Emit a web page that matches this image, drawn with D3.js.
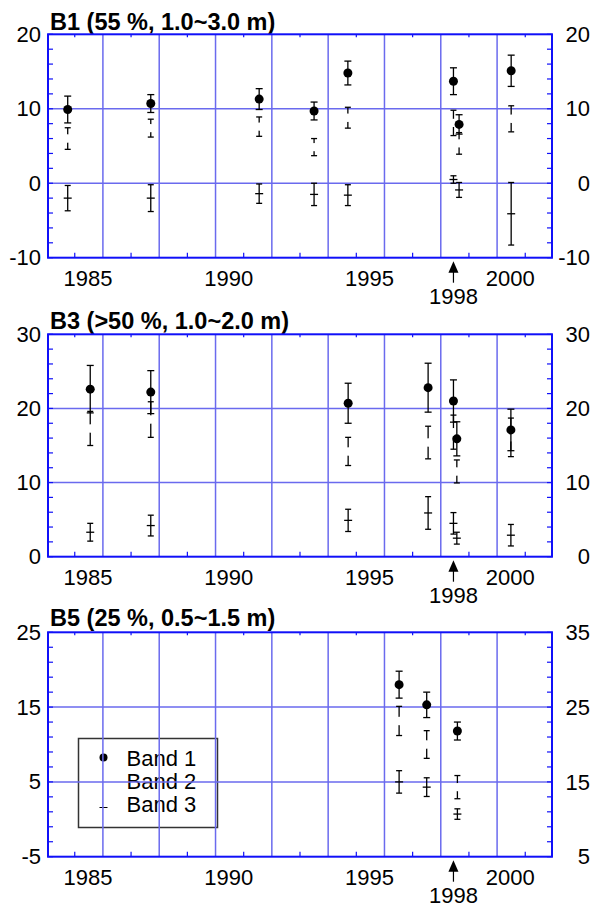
<!DOCTYPE html>
<html>
<head>
<meta charset="utf-8">
<script src="https://cdn.jsdelivr.net/npm/d3@7"></script>
<style>
    body { margin: 0; background: #fff; }
    svg { display: block; font-family: "Liberation Sans", Arial, sans-serif; }
</style>
</head>
<body>
<svg id="chart" width="593" height="907"></svg>
<script>
// ---- data ----
var xLabels = [1985, 1990, 1995, 2000];
var xGridYears = [1985.55, 1987.55, 1989.55, 1991.55, 1993.55, 1995.55, 1997.55, 1999.55];
var xMinorYears = [1984.55, 1986.55, 1988.55, 1990.55, 1992.55, 1994.55, 1996.55, 1998.55, 2000.55];
var markYear = 1998;
var legendLabels = ["Band 1", "Band 2", "Band 3"];

// B1
var b1Title = "B1 (55 %, 1.0~3.0 m)";
var b1LeftTicks = [-10, 0, 10, 20];
var b1RightTicks = [-10, 0, 10, 20];
var b1Years = [1984.3, 1987.25, 1991.1, 1993.05, 1994.25, 1998.0, 1998.2, 2000.05];
var b1Band1 = [9.9, 10.7, 11.3, 9.7, 14.8, 13.7, 7.9, 15.1];
var b1Band1Err = [1.8, 1.2, 1.4, 1.2, 1.6, 1.8, 1.3, 2.1];
var b1Band2 = [6.0, 7.4, 7.6, 4.85, 8.8, 8.1, 5.35, 8.65];
var b1Band2Err = [1.45, 1.2, 1.3, 1.15, 1.4, 1.7, 1.45, 1.75];
var b1Band3 = [-2.0, -2.0, -1.4, -1.5, -1.6, 0.5, -0.9, -4.1];
var b1Band3Err = [1.7, 1.8, 1.3, 1.5, 1.4, 0.5, 1.0, 4.2];

// B3
var b3Title = "B3 (>50 %, 1.0~2.0 m)";
var b3LeftTicks = [0, 10, 20, 30];
var b3RightTicks = [0, 10, 20, 30];
var b3Years = [1985.1, 1987.25, 1994.26, 1997.1, 1998.0, 1998.12, 2000.04];
var b3Band1 = [22.6, 22.2, 20.7, 22.8, 21.0, 15.9, 17.1];
var b3Band1Err = [3.2, 2.9, 2.7, 3.3, 2.85, 2.3, 2.8];
var b3Band2 = [17.3, 18.5, 14.2, 15.4, 16.8, 11.5, 16.1];
var b3Band2Err = [2.3, 2.4, 1.9, 2.2, 2.3, 1.55, 2.6];
var b3Band3 = [3.3, 4.2, 4.9, 5.9, 4.5, 2.5, 2.9];
var b3Band3Err = [1.2, 1.4, 1.5, 2.2, 1.45, 0.8, 1.45];

// B5
var b5Title = "B5 (25 %, 0.5~1.5 m)";
var b5LeftTicks = [-5, 5, 15, 25];
var b5RightTicks = [5, 15, 25, 35];
var b5Years = [1996.07, 1997.05, 1998.14];
var b5Band1 = [18.0, 15.3, 11.8];
var b5Band1Err = [1.8, 1.7, 1.2];
var b5Band2 = [13.15, 10.0, 4.3];
var b5Band2Err = [1.95, 1.85, 1.55];
var b5Band3 = [5.0, 4.3, 0.7];
var b5Band3Err = [1.5, 1.25, 0.7];

// ---- drawing ----
var svg = d3.select("#chart");
var left = 48, right = 552;
var blue = "#1010f8", gridBlue = "#6a6aee";

var x = d3.scaleLinear().domain([1983.6, 2001.5]).range([left, right]);

function rows(years, v, e) {
    return years.map(function(yr, i) { return {x: yr, y: v[i], e: e[i]}; });
}

var panels = [
    {title: b1Title, top: 34.3, bottom: 257.7, titleY: 30, left: b1LeftTicks, right: b1RightTicks,
     b1: rows(b1Years, b1Band1, b1Band1Err), b2: rows(b1Years, b1Band2, b1Band2Err), b3: rows(b1Years, b1Band3, b1Band3Err)},
    {title: b3Title, top: 334.3, bottom: 556.7, titleY: 328.5, left: b3LeftTicks, right: b3RightTicks,
     b1: rows(b3Years, b3Band1, b3Band1Err), b2: rows(b3Years, b3Band2, b3Band2Err), b3: rows(b3Years, b3Band3, b3Band3Err)},
    {title: b5Title, top: 632.3, bottom: 856.7, titleY: 625.5, left: b5LeftTicks, right: b5RightTicks, legend: true,
     b1: rows(b5Years, b5Band1, b5Band1Err), b2: rows(b5Years, b5Band2, b5Band2Err), b3: rows(b5Years, b5Band3, b5Band3Err)}
];

panels.forEach(function(p) {
    var lo = p.left[0], hi = p.left[p.left.length - 1];
    var y = d3.scaleLinear().domain([lo, hi]).range([p.bottom, p.top]);
    var y2 = d3.scaleLinear().domain([p.right[0], p.right[p.right.length - 1]]).range([p.bottom, p.top]);
    var g = svg.append("g");

    // title
    g.append("text")
        .attr("x", 50).attr("y", p.titleY)
        .attr("font-size", "23.5px").attr("font-weight", "bold")
        .text(p.title);

    // legend (under the grid, like the original)
    if (p.legend) {
        var lg = g.append("g").attr("transform", "translate(78.5,738.5)");
        lg.append("rect").attr("width", 139).attr("height", 89)
            .attr("fill", "none").attr("stroke", "#333").attr("stroke-width", 1.5);
        var item = lg.selectAll(".item").data(legendLabels).enter().append("g")
            .attr("class", "item")
            .attr("transform", function(d, i) { return "translate(0," + (27 + i * 23) + ")"; });
        item.append("text").attr("x", 48).attr("font-size", "22px").text(function(d) { return d; });
        lg.append("circle").attr("cx", 25).attr("cy", 19).attr("r", 4).attr("fill", "#000");
        lg.append("line").attr("x1", 21).attr("x2", 29).attr("y1", 69).attr("y2", 69)
            .attr("stroke", "#000").attr("stroke-width", 1);
    }

    // grid
    g.selectAll(".vgrid").data(xGridYears).enter().append("line")
        .attr("x1", x).attr("x2", x).attr("y1", p.top).attr("y2", p.bottom)
        .attr("stroke", gridBlue).attr("stroke-width", 1.5);
    g.selectAll(".hgrid").data(p.left.slice(1, -1)).enter().append("line")
        .attr("x1", left).attr("x2", right).attr("y1", y).attr("y2", y)
        .attr("stroke", gridBlue).attr("stroke-width", 1.5);

    // minor ticks
    var yMinor = d3.range(lo, hi + 0.001, 2);
    g.selectAll(".tb").data(xMinorYears).enter().append("line")
        .attr("x1", x).attr("x2", x).attr("y1", p.bottom).attr("y2", p.bottom - 5)
        .attr("stroke", blue).attr("stroke-width", 1.2);
    g.selectAll(".tt").data(xMinorYears).enter().append("line")
        .attr("x1", x).attr("x2", x).attr("y1", p.top).attr("y2", p.top + 3)
        .attr("stroke", blue).attr("stroke-width", 1.2);
    g.selectAll(".tl").data(yMinor).enter().append("line")
        .attr("x1", left).attr("x2", left + 5).attr("y1", y).attr("y2", y)
        .attr("stroke", blue).attr("stroke-width", 1.2);
    g.selectAll(".tr").data(yMinor).enter().append("line")
        .attr("x1", right).attr("x2", right - 5).attr("y1", y).attr("y2", y)
        .attr("stroke", blue).attr("stroke-width", 1.2);

    // frame
    g.append("rect")
        .attr("x", left).attr("y", p.top).attr("width", right - left).attr("height", p.bottom - p.top)
        .attr("fill", "none").attr("stroke", blue).attr("stroke-width", 2);

    // axis labels
    var ax = g.append("g").attr("transform", "translate(" + left + ",0)")
        .call(d3.axisLeft(y).tickValues(p.left).tickSize(0).tickPadding(7).tickFormat(String));
    var bx = g.append("g").attr("transform", "translate(0," + p.bottom + ")")
        .call(d3.axisBottom(x).tickValues(xLabels).tickSize(0).tickPadding(13).tickFormat(String));
    [ax, bx].forEach(function(a) {
        a.attr("font-family", null).attr("font-size", null);
        a.select(".domain").remove();
        a.selectAll("text").attr("font-size", "22px").attr("fill", "#000");
    });
    g.selectAll(".rlab").data(p.right).enter().append("text")
        .attr("x", 590).attr("y", y2).attr("dy", "0.35em")
        .attr("text-anchor", "end").attr("font-size", "22px")
        .text(String);

    // 1998 arrow
    var mx = x(markYear);
    g.append("path")
        .attr("d", "M" + mx + "," + (p.bottom + 3.5) + "L" + (mx - 5) + "," + (p.bottom + 15) + "L" + (mx + 5) + "," + (p.bottom + 15) + "Z")
        .attr("fill", "#000");
    g.append("line").attr("x1", mx).attr("x2", mx).attr("y1", p.bottom + 14).attr("y2", p.bottom + 25)
        .attr("stroke", "#000").attr("stroke-width", 1.2);
    g.append("text").attr("x", mx).attr("y", p.bottom + 46)
        .attr("text-anchor", "middle").attr("font-size", "22px").text(markYear);

    // error bars
    function bars(data, cap) {
        var eb = g.append("g").attr("stroke", "#000").attr("stroke-width", 1.3);
        eb.selectAll(".v").data(data).enter().append("line")
            .attr("x1", function(d) { return x(d.x); }).attr("x2", function(d) { return x(d.x); })
            .attr("y1", function(d) { return y(d.y + d.e); }).attr("y2", function(d) { return y(d.y - d.e); });
        [1, -1].forEach(function(s) {
            eb.selectAll(".c" + s).data(data).enter().append("line")
                .attr("x1", function(d) { return x(d.x) - cap; }).attr("x2", function(d) { return x(d.x) + cap; })
                .attr("y1", function(d) { return y(d.y + s * d.e); }).attr("y2", function(d) { return y(d.y + s * d.e); });
        });
    }

    bars(p.b2, 3);
    g.selectAll(".m2").data(p.b2).enter().append("circle")
        .attr("cx", function(d) { return x(d.x); }).attr("cy", function(d) { return y(d.y); })
        .attr("r", 4.2).attr("fill", "#fff");
    bars(p.b3, 3);
    g.selectAll(".m3").data(p.b3).enter().append("line")
        .attr("x1", function(d) { return x(d.x) - 4; }).attr("x2", function(d) { return x(d.x) + 4; })
        .attr("y1", function(d) { return y(d.y); }).attr("y2", function(d) { return y(d.y); })
        .attr("stroke", "#000").attr("stroke-width", 1.3);
    bars(p.b1, 3.5);
    g.selectAll(".m1").data(p.b1).enter().append("circle")
        .attr("cx", function(d) { return x(d.x); }).attr("cy", function(d) { return y(d.y); })
        .attr("r", 4.5).attr("fill", "#000");
});
</script>
</body>
</html>
